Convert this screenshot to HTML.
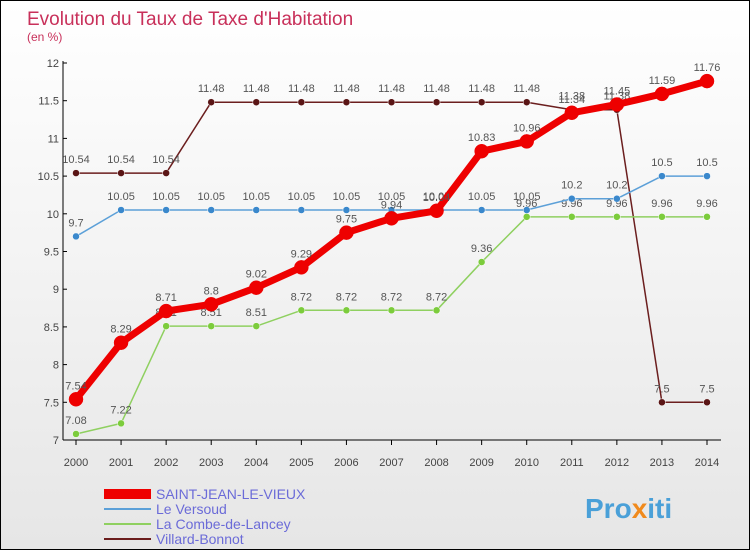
<!DOCTYPE html>
<html><head><meta charset="utf-8"><style>
body{margin:0}
#c{width:748px;height:548px;border:1px solid #000;background:linear-gradient(#fff,#e6e6e6);position:relative;font-family:"Liberation Sans",sans-serif;overflow:hidden}
svg text{font-family:"Liberation Sans",sans-serif}
</style></head><body>
<div id="c">
<svg id="s" width="748" height="548">
<text x="26" y="24" font-size="19" fill="#c8305a">Evolution du Taux de Taxe d'Habitation</text>
<text x="26" y="40" font-size="12" fill="#c8305a">(en %)</text>
<g id="g"></g>
<text x="584" y="517" font-size="28" font-weight="bold" fill="#4aa0d8">Pro<tspan fill="#f08a1c">x</tspan>iti</text>
</svg></div>
<script>
const years=[2000,2001,2002,2003,2004,2005,2006,2007,2008,2009,2010,2011,2012,2013,2014];
const yTicks=[7,7.5,8,8.5,9,9.5,10,10.5,11,11.5,12];
const stJean=[7.54,8.29,8.71,8.8,9.02,9.29,9.75,9.94,10.04,10.83,10.96,11.34,11.45,11.59,11.76];
const versoud=[9.7,10.05,10.05,10.05,10.05,10.05,10.05,10.05,10.05,10.05,10.05,10.2,10.2,10.5,10.5];
const combe=[7.08,7.22,8.51,8.51,8.51,8.72,8.72,8.72,8.72,9.36,9.96,9.96,9.96,9.96,9.96];
const villard=[10.54,10.54,10.54,11.48,11.48,11.48,11.48,11.48,11.48,11.48,11.48,11.38,11.38,7.5,7.5];
const names=["SAINT-JEAN-LE-VIEUX","Le Versoud","La Combe-de-Lancey","Villard-Bonnot"];
const NS="http://www.w3.org/2000/svg",g=document.getElementById('g');
const X=i=>75+i*(706-75)/14, Y=v=>439-(v-7)*(439-62)/5;
function mk(t,a,p){const e=document.createElementNS(NS,t);for(const k in a)e.setAttribute(k,a[k]);(p||g).appendChild(e);return e;}
let ax=mk('line',{x1:62,y1:Y(12)-2,x2:62,y2:439,stroke:'#000'});


let bx=mk('line',{x1:62,y1:439,x2:720,y2:439,stroke:'#000'});


yTicks.forEach(v=>{let t=mk('text',{x:58,y:Y(v)+4,'font-size':11,'text-anchor':'end',fill:'#444'});t.textContent=v;


mk('line',{x1:62,y1:Y(v),x2:66,y2:Y(v),stroke:'#000'});});
years.forEach((y,i)=>{let t=mk('text',{x:X(i),y:465,'font-size':11,'text-anchor':'middle',fill:'#444'});t.textContent=y;


mk('line',{x1:X(i),y1:439,x2:X(i),y2:444,stroke:'#000'});});
const series=[[villard,'#6b1e1e','#5a1515',1.5,3.5],[combe,'#8fd060','#7ccc3c',1.5,3.5],[versoud,'#5ca0d8','#3a88cc',1.5,3.5],[stJean,'#ee0000','#ee0000',7,7]];
const snames=['villard-bonnot','la-combe-de-lancey','le-versoud','saint-jean-le-vieux'];
series.forEach(([d,c,pc,w,r],si)=>{
 let p=mk('polyline',{points:d.map((v,i)=>X(i)+','+Y(v)).join(' '),fill:'none',stroke:c,'stroke-width':w,'stroke-linejoin':'round'});
 
 
 d.forEach((v,i)=>{let m=mk('circle',{cx:X(i),cy:Y(v),r:r,fill:pc,stroke:si==3?'#e00':'#fff','stroke-width':0.5});
 
 
 let t=mk('text',{x:X(i),y:Y(v)-10,'font-size':11,'text-anchor':'middle',fill:'#555'});t.textContent=v;
 
 });
});
const lc=['#ee0000','#5ca0d8','#8fd060','#6b1e1e'],lw=[10,2,2,2];
names.forEach((n,i)=>{let y=493+i*15;
 let l=mk('line',{x1:103,y1:y,x2:150,y2:y,stroke:lc[i],'stroke-width':lw[i]});
 
 
 let t=mk('text',{x:155,y:y+5,'font-size':14,fill:'#6b6bd8'});t.textContent=n;
 
 });
</script></body></html>
